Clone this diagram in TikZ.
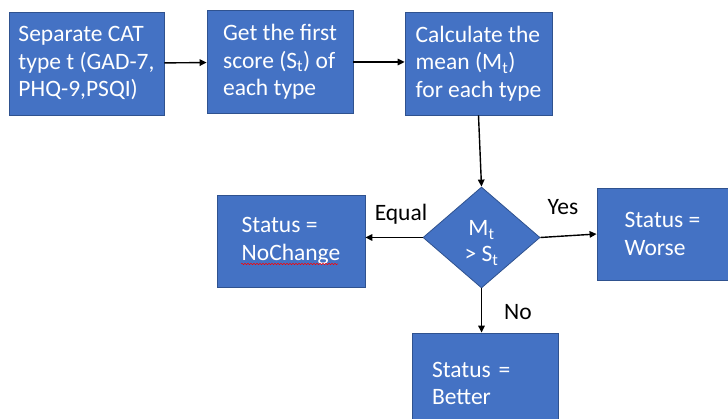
\documentclass[tikz,border=0pt]{standalone}
\usepackage{fontspec}
\setmainfont{Carlito}
\usetikzlibrary{shapes.geometric,arrows.meta,decorations.pathmorphing}
\definecolor{boxblue}{HTML}{4472C4}
\definecolor{boxline}{HTML}{2F528F}
\tikzset{
  box/.style={draw=boxline, line width=0.8pt, fill=boxblue, text=white, align=left,
    rectangle, inner sep=0pt, font=\fontsize{23.5}{27.5}\selectfont},
  dec/.style={draw=boxline, line width=0.8pt, fill=boxblue, text=white, align=center,
    diamond, inner sep=0pt, font=\fontsize{23.5}{26}\selectfont},
  lbl/.style={text=black, inner sep=0pt, font=\fontsize{23.5}{27}\selectfont},
  conn/.style={draw=black, line width=1.4pt, -{Triangle[length=7pt,width=6.5pt]}}
}
\begin{document}
\begin{tikzpicture}[x=1pt,y=-1pt]
\useasboundingbox (0,0) rectangle (728,419);
\clip (0,0) rectangle (728,419);
\node[box, minimum width=155pt, minimum height=103pt] (sep) at (86.5,63.5)
  {Separate CAT\\type t (GAD-7,\\PHQ-9,PSQI)};
\node[box, minimum width=146pt, minimum height=103pt] (first) at (280,62)
  {Get the first\\score (S\textsubscript{t}) of\\each type};
\node[box, minimum width=147pt, minimum height=103pt] (mean) at (478.5,63.5)
  {Calculate the\\mean (M\textsubscript{t})\\for each type};
\node[dec, minimum width=117pt, minimum height=101pt] (cmp) at (481.5,237.5)
  {\rule{0pt}{26pt}M\textsubscript{t}\\{>} S\textsubscript{t}};
\node[box, minimum width=148pt, minimum height=92pt] (nochange) at (291,241)
  {Status =\\NoChange};
\node[box, minimum width=131pt, minimum height=92pt] (worse) at (662.5,234)
  {Status =\\Worse};
\node[box, minimum height=101pt, text width=106pt, inner xsep=20pt] (better) at (485,383.5)
  {Status =\\Better};
\node[lbl] (lequal) at (401,214) {Equal};
\node[lbl] (lyes) at (563,207) {Yes};
\node[lbl] (lno) at (518,312) {No};
\draw[conn] (sep) -- (first);
\draw[conn] (first.east) -- (mean.west |- first.east);
\draw[conn] (mean.south) -- (cmp.north);
\draw[conn] (cmp.west) -- (cmp.west -| nochange.east);
\draw[conn] (cmp.east) -- (worse.west);
\draw[conn] (cmp.south) -- (cmp.south |- better.north);
\draw[red, line width=0.5pt, decorate, decoration={snake, amplitude=0.7pt, segment length=3pt}]
  (241,264) -- (338,264);
\end{tikzpicture}
\end{document}
